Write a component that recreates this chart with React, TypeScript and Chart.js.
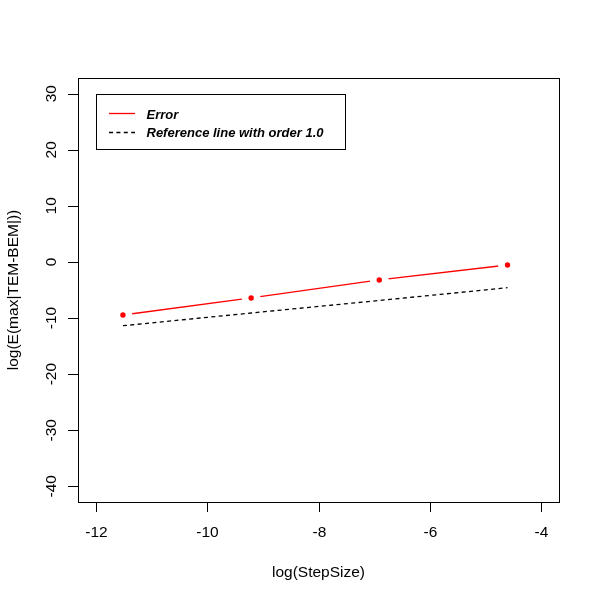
import React, { useEffect, useRef } from "react";
import { Chart, registerables } from "chart.js";

Chart.register(...registerables);

// ---- data ----
const stepLog = [-11.513, -9.21, -6.908, -4.605];
const errorLog = [-9.46, -6.42, -3.21, -0.54];
const refLog = [-11.37, -9.1, -6.87, -4.59];
const xTicks = [-12, -10, -8, -6, -4];
const yTicks = [-40, -30, -20, -10, 0, 10, 20, 30];
const xTitle = "log(StepSize)";
const yTitle = "log(E(max|TEM-BEM|))";
const legendLabels = ["Error", "Reference line with order 1.0"];

const FONT = "'Liberation Sans', Arial, sans-serif";

const rPlot = {
  id: "rPlot",
  afterDraw(chart: any) {
    const ctx = chart.ctx;
    const ca = chart.chartArea;
    const xs = chart.scales.x;
    const ys = chart.scales.y;
    ctx.save();
    // box
    ctx.strokeStyle = "#000";
    ctx.lineWidth = 1;
    ctx.setLineDash([]);
    ctx.strokeRect(Math.round(ca.left) + 0.5, Math.round(ca.top) + 0.5, Math.round(ca.right - ca.left), Math.round(ca.bottom - ca.top));
    // tick marks + labels
    ctx.fillStyle = "#000";
    ctx.font = `15.5px ${FONT}`;
    ctx.textAlign = "center";
    ctx.textBaseline = "alphabetic";
    ctx.beginPath();
    for (const v of xTicks) {
      const px = Math.round(xs.getPixelForValue(v)) + 0.5;
      ctx.moveTo(px, ca.bottom);
      ctx.lineTo(px, ca.bottom + 10);
      ctx.fillText(String(v), px, 537);
    }
    for (const v of yTicks) {
      const py = Math.round(ys.getPixelForValue(v)) + 0.5;
      ctx.moveTo(ca.left, py);
      ctx.lineTo(ca.left - 10, py);
    }
    ctx.stroke();
    for (const v of yTicks) {
      const py = ys.getPixelForValue(v);
      ctx.save();
      ctx.translate(56, py);
      ctx.rotate(-Math.PI / 2);
      ctx.fillText(String(v), 0, 0);
      ctx.restore();
    }
    // axis titles
    ctx.fillText(xTitle, (ca.left + ca.right) / 2, 577);
    ctx.save();
    ctx.translate(18, (ca.top + ca.bottom) / 2);
    ctx.rotate(-Math.PI / 2);
    ctx.fillText(yTitle, 0, 0);
    ctx.restore();
    // legend
    ctx.strokeRect(96.5, 94.5, 249, 55);
    ctx.lineWidth = 1.3;
    ctx.beginPath();
    ctx.strokeStyle = "#ff0000";
    ctx.moveTo(109, 113.5);
    ctx.lineTo(135, 113.5);
    ctx.stroke();
    ctx.beginPath();
    ctx.strokeStyle = "#000";
    ctx.setLineDash([4, 3.4]);
    ctx.moveTo(109, 132.5);
    ctx.lineTo(135, 132.5);
    ctx.stroke();
    ctx.setLineDash([]);
    ctx.font = `italic bold 13px ${FONT}`;
    ctx.textAlign = "left";
    ctx.fillText(legendLabels[0], 146.5, 118.7);
    ctx.fillText(legendLabels[1], 146.5, 137);
    ctx.restore();
  },
};

export default function App() {
  const ref = useRef<HTMLCanvasElement | null>(null);
  useEffect(() => {
    if (!ref.current) return;
    const pts = (vals: number[]) => stepLog.map((x, i) => ({ x, y: vals[i] }));
    const chart = new Chart(ref.current, {
      type: "scatter",
      data: {
        datasets: [
          {
            label: legendLabels[1],
            data: pts(refLog),
            showLine: true,
            borderColor: "#000",
            borderWidth: 1.3,
            borderDash: [4, 3.4],
            pointRadius: 0,
            order: 0,
          },
          {
            label: "dots",
            data: pts(errorLog),
            showLine: false,
            pointRadius: 2.7,
            pointBackgroundColor: "#ff0000",
            pointBorderWidth: 0,
            order: 1,
          },
          {
            label: "mask",
            data: pts(errorLog),
            showLine: false,
            pointRadius: 9.5,
            pointBackgroundColor: "#ffffff",
            pointBorderWidth: 0,
            order: 2,
          },
          {
            label: legendLabels[0],
            data: pts(errorLog),
            showLine: true,
            borderColor: "#ff0000",
            borderWidth: 1.3,
            pointRadius: 0,
            order: 3,
          },
        ],
      } as any,
      options: {
        animation: false,
        responsive: false,
        devicePixelRatio: 1,
        events: [],
        layout: { padding: { left: 0, top: 78, right: 41, bottom: 0 } },
        plugins: { legend: { display: false }, tooltip: { enabled: false } },
        scales: {
          x: {
            type: "linear",
            min: -12.32,
            max: -3.68,
            grid: { display: false },
            border: { display: false },
            ticks: { display: false },
            afterFit: (s: any) => { s.height = 98; },
            afterBuildTicks: (s: any) => { s.ticks = xTicks.map((v) => ({ value: v })); },
          },
          y: {
            type: "linear",
            min: -42.8,
            max: 32.8,
            grid: { display: false },
            border: { display: false },
            ticks: { display: false },
            afterFit: (s: any) => { s.width = 78; },
            afterBuildTicks: (s: any) => { s.ticks = yTicks.map((v) => ({ value: v })); },
          },
        },
      } as any,
      plugins: [rPlot],
    });
    return () => chart.destroy();
  }, []);
  return (
    <div style={{ position: "fixed", left: 0, top: 0, width: 600, height: 600, background: "#fff" }}>
      <canvas ref={ref} width={600} height={600} style={{ width: 600, height: 600, display: "block" }} />
    </div>
  );
}
